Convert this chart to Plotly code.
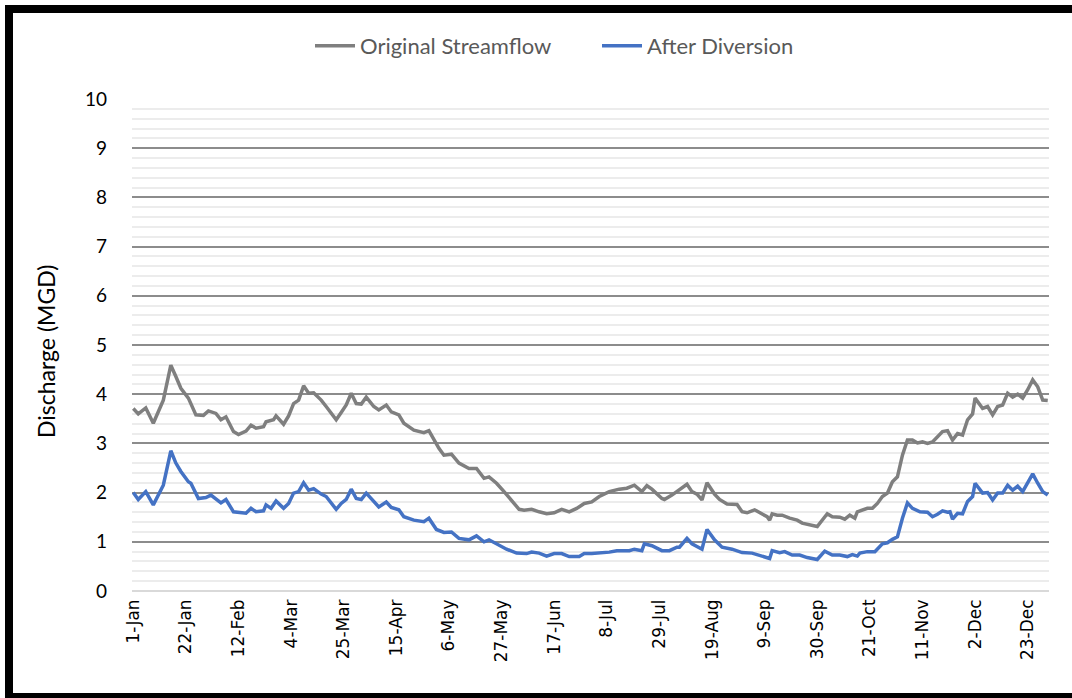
import pandas as pd
import plotly.graph_objects as go

# Daily discharge (MGD) for a leap year, sampled as day offsets from 1-Jan
year_start = "2020-01-01"

orig_days = [0, 2, 5, 8, 12, 15, 17, 19, 22, 25, 28, 30, 33, 35, 37, 40, 42, 45, 47, 49,
             52, 53, 56, 57, 60, 62, 64, 66, 68, 70, 72, 75, 77, 81, 83, 85, 87, 89, 91, 93,
             96, 98, 101, 103, 106, 108, 112, 116, 118, 119, 122, 124, 127, 130, 134, 137,
             140, 142, 145, 148, 151, 154, 156, 159, 162, 165, 168, 171, 174, 177, 180, 183,
             186, 190, 194, 197, 200, 202, 203, 205, 207, 211, 212, 215, 218, 221, 223, 225,
             227, 229, 232, 234, 237, 241, 243, 245, 248, 251, 253, 254, 255, 257, 259, 262,
             265, 267, 271, 273, 277, 279, 282, 284, 286, 288, 289, 293, 295, 297, 299, 301,
             303, 305, 307, 309, 311, 313, 315, 317, 319, 321, 323, 325, 327, 329, 331, 333,
             335, 336, 339, 341, 343, 345, 347, 349, 351, 353, 355, 357, 359, 361, 363, 365]
orig_flow = [3.71, 3.60, 3.72, 3.41, 3.88, 4.59, 4.36, 4.12, 3.92, 3.58, 3.57, 3.66, 3.61, 3.48,
             3.54, 3.24, 3.18, 3.25, 3.37, 3.31, 3.34, 3.44, 3.48, 3.56, 3.39, 3.56, 3.81, 3.88,
             4.17, 4.02, 4.03, 3.88, 3.75, 3.48, 3.63, 3.78, 4.02, 3.81, 3.80, 3.94, 3.75, 3.68,
             3.78, 3.64, 3.58, 3.41, 3.27, 3.22, 3.26, 3.17, 2.90, 2.76, 2.78, 2.60, 2.49, 2.49,
             2.29, 2.32, 2.19, 2.02, 1.85, 1.66, 1.64, 1.66, 1.61, 1.57, 1.59, 1.66, 1.61, 1.68,
             1.78, 1.81, 1.92, 2.02, 2.07, 2.09, 2.15, 2.07, 2.02, 2.14, 2.07, 1.88, 1.86, 1.95,
             2.06, 2.17, 2.02, 1.97, 1.85, 2.20, 1.97, 1.86, 1.77, 1.76, 1.61, 1.59, 1.65, 1.57,
             1.51, 1.44, 1.57, 1.54, 1.54, 1.48, 1.44, 1.38, 1.34, 1.31, 1.57, 1.51, 1.50, 1.46,
             1.54, 1.48, 1.61, 1.68, 1.68, 1.78, 1.92, 1.99, 2.22, 2.32, 2.76, 3.07, 3.07, 3.01,
             3.03, 3.00, 3.03, 3.14, 3.24, 3.26, 3.07, 3.20, 3.17, 3.48, 3.60, 3.92, 3.71, 3.75,
             3.58, 3.75, 3.78, 4.02, 3.94, 4.00, 3.92, 4.09, 4.29, 4.15, 3.88, 3.87]

div_days = [0, 2, 5, 8, 12, 15, 17, 19, 22, 23, 26, 29, 31, 35, 37, 40, 45, 47, 49, 52, 53, 55,
            57, 60, 62, 64, 66, 68, 70, 72, 75, 77, 81, 83, 85, 87, 89, 91, 93, 96, 98, 101,
            103, 106, 108, 112, 116, 118, 121, 124, 127, 130, 134, 137, 140, 142, 145, 149,
            153, 157, 159, 162, 165, 168, 171, 174, 178, 180, 183, 186, 190, 193, 198, 200,
            203, 204, 207, 211, 214, 217, 218, 221, 223, 227, 229, 232, 235, 239, 243, 247,
            251, 254, 255, 258, 260, 263, 266, 269, 273, 276, 279, 282, 285, 287, 289, 290,
            293, 296, 299, 301, 303, 305, 307, 309, 311, 314, 317, 319, 321, 323, 325, 326,
            327, 329, 331, 333, 335, 336, 339, 341, 343, 345, 347, 349, 351, 353, 355, 357,
            359, 361, 363, 365]
div_flow = [2.00, 1.86, 2.02, 1.75, 2.15, 2.85, 2.60, 2.43, 2.22, 2.19, 1.88, 1.90, 1.95, 1.79,
            1.86, 1.61, 1.58, 1.68, 1.61, 1.63, 1.75, 1.68, 1.83, 1.68, 1.78, 1.99, 2.02, 2.20,
            2.05, 2.08, 1.97, 1.92, 1.66, 1.78, 1.86, 2.07, 1.88, 1.86, 1.99, 1.81, 1.71, 1.81,
            1.70, 1.65, 1.51, 1.44, 1.41, 1.48, 1.25, 1.19, 1.20, 1.07, 1.04, 1.12, 1.00, 1.04,
            0.96, 0.85, 0.77, 0.76, 0.79, 0.77, 0.71, 0.76, 0.76, 0.70, 0.70, 0.76, 0.76, 0.77,
            0.79, 0.82, 0.82, 0.85, 0.82, 0.96, 0.92, 0.82, 0.82, 0.89, 0.89, 1.07, 0.96, 0.85,
            1.25, 1.04, 0.89, 0.85, 0.78, 0.77, 0.71, 0.66, 0.82, 0.78, 0.80, 0.73, 0.73, 0.68,
            0.64, 0.81, 0.73, 0.73, 0.70, 0.74, 0.71, 0.77, 0.80, 0.80, 0.96, 0.98, 1.05, 1.10,
            1.48, 1.79, 1.68, 1.61, 1.60, 1.51, 1.56, 1.63, 1.60, 1.61, 1.46, 1.58, 1.57, 1.82,
            1.92, 2.19, 1.99, 2.00, 1.85, 1.99, 1.99, 2.15, 2.05, 2.13, 2.02, 2.19, 2.38, 2.19,
            2.02, 1.95]

# Category labels every 21 days
tick_step_days = 21
y_ticks = list(range(0, 11))

base = pd.Timestamp(year_start)
orig_x = [base + pd.Timedelta(days=d) for d in orig_days]
div_x = [base + pd.Timedelta(days=d) for d in div_days]
tick_x = [base + pd.Timedelta(days=d) for d in range(0, 366, tick_step_days)]

W, H = 1072, 698
ml, mr, mt, mb = 132, 23, 99, 107
pw, ph = W - ml - mr, H - mt - mb


def px_to_paper(px, py):
    return (px - ml) / pw, (H - mb - py) / ph


fig = go.Figure()
fig.add_trace(go.Scatter(x=orig_x, y=orig_flow, mode="lines", name="Original Streamflow",
                         line=dict(color="#7f7f7f", width=3.5)))
fig.add_trace(go.Scatter(x=div_x, y=div_flow, mode="lines", name="After Diversion",
                         line=dict(color="#4472c4", width=3.5)))

fig.update_xaxes(
    type="date",
    range=[base - pd.Timedelta(hours=12), base + pd.Timedelta(days=365, hours=12)],
    tickvals=tick_x, tickformat="%-d-%b", tickangle=-90,
    tickfont=dict(family="DejaVu Sans", size=17, color="#000000"),
    showgrid=False, zeroline=False, showline=False, ticks="",
    ticklabelstandoff=4,
)
fig.update_yaxes(
    range=[0, 10], tickvals=y_ticks,
    tickfont=dict(family="Lato", size=19, color="#000000"),
    showgrid=True, gridcolor="#8c8c8c", gridwidth=2,
    zeroline=True, zerolinecolor="#d9d9d9", zerolinewidth=2,
    minor=dict(dtick=0.2, showgrid=True, gridcolor="#ececec", gridwidth=2),
    ticks="", ticklabelstandoff=24,
)

lx, ly = px_to_paper(310, 46)
tx, ty = px_to_paper(46, 352)

fig.add_annotation(text="Discharge (MGD)", x=tx, y=ty, xref="paper", yref="paper",
                   xanchor="center", yanchor="middle",
                   textangle=-90, showarrow=False,
                   font=dict(family="Lato", size=23, color="#000000"))

# Chart frame as filled bands (top, left, bottom) running to the page edge
frame_bands = [(5, 5, W, 13), (5, 5, 13, H), (5, 693, W, H)]
for x0p, y0p, x1p, y1p in frame_bands:
    ax0, ay0 = px_to_paper(x0p, y0p)
    ax1, ay1 = px_to_paper(x1p, y1p)
    fig.add_shape(type="rect", xref="paper", yref="paper",
                  x0=ax0, x1=ax1, y0=ay1, y1=ay0,
                  fillcolor="#000000", line=dict(width=0), layer="above")

fig.update_layout(
    width=W, height=H, autosize=False,
    margin=dict(l=ml, r=mr, t=mt, b=mb),
    paper_bgcolor="#ffffff", plot_bgcolor="#ffffff",
    showlegend=True,
    legend=dict(orientation="h", x=lx, y=ly, xanchor="left", yanchor="middle",
                font=dict(family="Lato", size=22, color="#595959"),
                itemwidth=40, entrywidth=232, entrywidthmode="pixels",
                bgcolor="rgba(0,0,0,0)"),
)

fig.write_html("out.html")
